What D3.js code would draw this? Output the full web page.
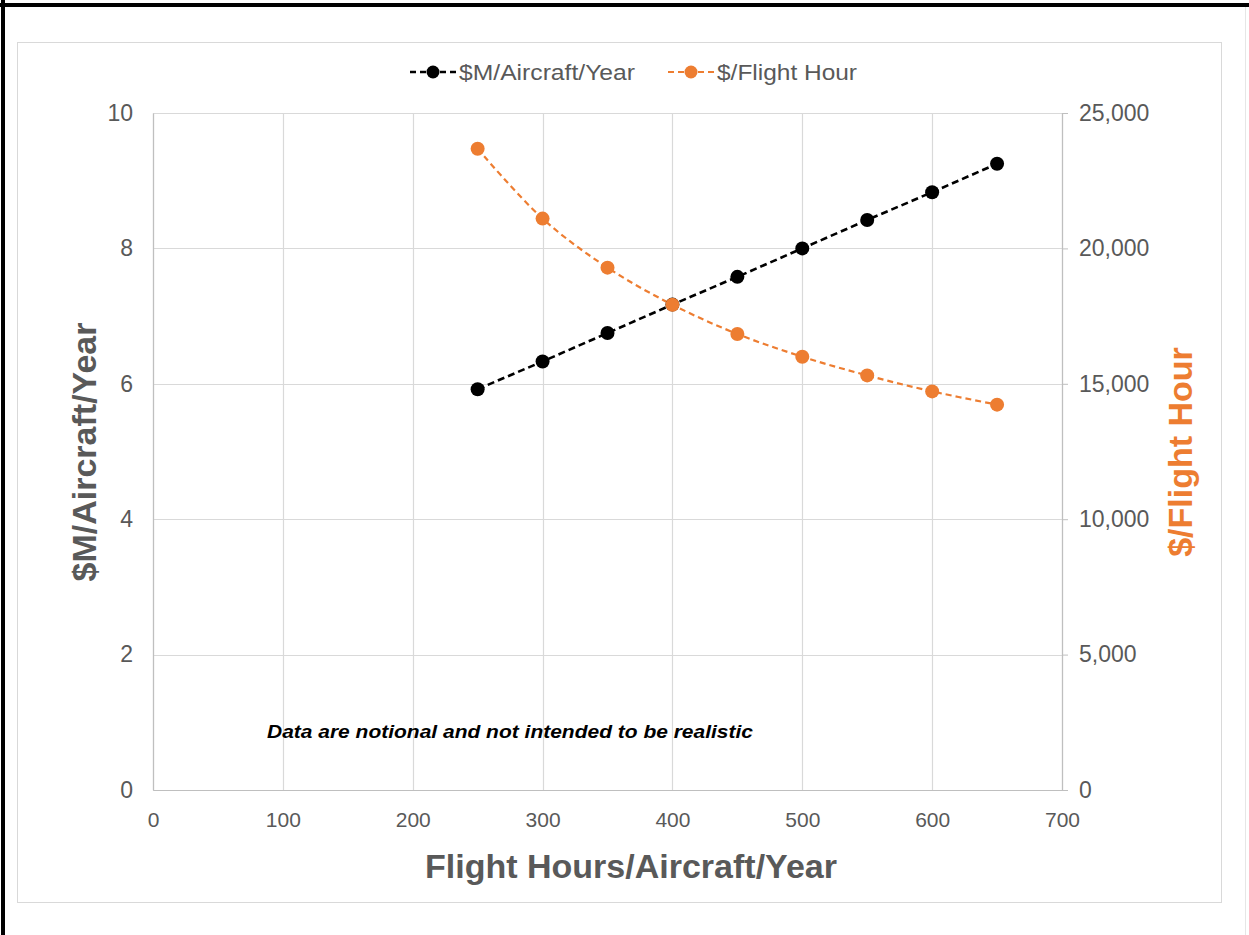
<!DOCTYPE html>
<html>
<head>
<meta charset="utf-8">
<script src="https://cdn.jsdelivr.net/npm/d3@7"></script>
<style>
  html, body { margin: 0; padding: 0; background: #fff; }
  svg { display: block; font-family: "Liberation Sans", Arial, sans-serif; }
</style>
</head>
<body>
<svg id="chart" width="1249" height="935"></svg>
<script>
// ---- data ----
const hours = [250, 300, 350, 400, 450, 500, 550, 600, 650];
const costPerAircraftYear = [5.92, 6.33, 6.75, 7.17, 7.58, 8.0, 8.42, 8.83, 9.25];
const costPerFlightHour = [23680, 21100, 19290, 17920, 16840, 16000, 15310, 14720, 14230];
const xTicks = [0, 100, 200, 300, 400, 500, 600, 700];
const yLeftTicks = [0, 2, 4, 6, 8, 10];
const yRightTicks = [0, 5000, 10000, 15000, 20000, 25000];
const seriesNames = ["$M/Aircraft/Year", "$/Flight Hour"];
const seriesColors = ["#000000", "#ED7D31"];

const svg = d3.select("#chart");
const W = 1249, H = 935;
const plot = { left: 153, right: 1062, top: 113, bottom: 790 };

// outer frame
svg.append("rect").attr("x", 0).attr("y", 0).attr("width", W).attr("height", H).attr("fill", "#fff");
svg.append("rect").attr("x", 17.5).attr("y", 42.5).attr("width", 1204).attr("height", 860)
  .attr("fill", "none").attr("stroke", "#d9d9d9").attr("stroke-width", 1);
svg.append("line").attr("x1", 0).attr("x2", W).attr("y1", 5).attr("y2", 5).attr("stroke", "#000").attr("stroke-width", 4);
svg.append("line").attr("x1", 3).attr("x2", 3).attr("y1", 0).attr("y2", H).attr("stroke", "#000").attr("stroke-width", 4);
svg.append("line").attr("x1", 1245.5).attr("x2", 1245.5).attr("y1", 7).attr("y2", H).attr("stroke", "#e6e6e6").attr("stroke-width", 1);

// scales
const x = d3.scaleLinear().domain([0, 700]).range([plot.left, plot.right]);
const yL = d3.scaleLinear().domain([0, 10]).range([plot.bottom, plot.top]);
const yR = d3.scaleLinear().domain([0, 25000]).range([plot.bottom, plot.top]);

// gridlines
const grid = svg.append("g");
grid.selectAll("line.h").data(yLeftTicks).join("line")
  .attr("x1", plot.left).attr("x2", plot.right)
  .attr("y1", d => Math.round(yL(d)) + 0.5).attr("y2", d => Math.round(yL(d)) + 0.5)
  .attr("stroke", "#d9d9d9").attr("stroke-width", 1.2);
grid.selectAll("line.v").data(xTicks).join("line")
  .attr("y1", plot.top).attr("y2", plot.bottom)
  .attr("x1", d => Math.round(x(d)) + 0.5).attr("x2", d => Math.round(x(d)) + 0.5)
  .attr("stroke", "#d9d9d9").attr("stroke-width", 1.2);

// axes
const tickColor = "#595959";
const xAxis = svg.append("g").attr("transform", `translate(0,${plot.bottom})`)
  .call(d3.axisBottom(x).tickValues(xTicks).tickSize(0).tickPadding(22).tickFormat(d3.format("d")));
const yAxisL = svg.append("g").attr("transform", `translate(${plot.left},0)`)
  .call(d3.axisLeft(yL).tickValues(yLeftTicks).tickSize(0).tickPadding(20).tickFormat(d3.format("d")));
const yAxisR = svg.append("g").attr("transform", `translate(${plot.right},0)`)
  .call(d3.axisRight(yR).tickValues(yRightTicks).tickSize(6).tickPadding(11).tickFormat(d3.format(",")));

[xAxis, yAxisL, yAxisR].forEach(a => {
  a.select(".domain").attr("stroke", "#bfbfbf").attr("stroke-width", 1.2);
  a.selectAll(".tick line").attr("stroke", "#bfbfbf");
  a.selectAll("text").attr("fill", tickColor).style("font-size", "23px")
   .style("font-family", "'Liberation Sans', Arial, sans-serif");
});
xAxis.selectAll("text").style("font-size", "21px");

// lines
const lineL = d3.line().x((d, i) => x(hours[i])).y(d => yL(d));
const lineR = d3.line().x((d, i) => x(hours[i])).y(d => yR(d)).curve(d3.curveCatmullRom.alpha(0.5));

svg.append("path").datum(costPerFlightHour).attr("d", lineR)
  .attr("fill", "none").attr("stroke", seriesColors[1]).attr("stroke-width", 2.2)
  .attr("stroke-dasharray", "6,4");
svg.append("path").datum(costPerAircraftYear).attr("d", lineL)
  .attr("fill", "none").attr("stroke", seriesColors[0]).attr("stroke-width", 2.6)
  .attr("stroke-dasharray", "7,4");

svg.append("g").selectAll("circle").data(costPerAircraftYear).join("circle")
  .attr("cx", (d, i) => x(hours[i])).attr("cy", d => yL(d)).attr("r", 7)
  .attr("fill", seriesColors[0]);
svg.append("g").selectAll("circle").data(costPerFlightHour).join("circle")
  .attr("cx", (d, i) => x(hours[i])).attr("cy", d => yR(d)).attr("r", 7)
  .attr("fill", seriesColors[1]);

// legend
const legendY = 72;
const legendItems = [
  { name: seriesNames[0], color: seriesColors[0], x0: 410, w: 2.6, len: 176 },
  { name: seriesNames[1], color: seriesColors[1], x0: 668, w: 2.2, len: 140 }
];
const lg = svg.append("g");
legendItems.forEach(it => {
  lg.append("line").attr("x1", it.x0).attr("x2", it.x0 + 46)
    .attr("y1", legendY).attr("y2", legendY)
    .attr("stroke", it.color).attr("stroke-width", it.w).attr("stroke-dasharray", "6,4");
  lg.append("circle").attr("cx", it.x0 + 23).attr("cy", legendY).attr("r", 6.5).attr("fill", it.color);
  lg.append("text").attr("x", it.x0 + 49).attr("y", legendY).attr("dy", "0.35em")
    .attr("fill", tickColor).style("font-size", "22px")
    .attr("textLength", it.len).attr("lengthAdjust", "spacingAndGlyphs")
    .text(it.name);
});

// axis titles
svg.append("text").attr("x", 631).attr("y", 878).attr("text-anchor", "middle")
  .attr("fill", tickColor).style("font-size", "34px").style("font-weight", "bold")
  .text("Flight Hours/Aircraft/Year");
svg.append("text").attr("transform", "translate(96,452) rotate(-90)").attr("text-anchor", "middle")
  .attr("fill", tickColor).style("font-size", "34px").style("font-weight", "bold")
  .text("$M/Aircraft/Year");
svg.append("text").attr("transform", "translate(1192,452) rotate(-90)").attr("text-anchor", "middle")
  .attr("fill", seriesColors[1]).style("font-size", "34px").style("font-weight", "bold")
  .text("$/Flight Hour");

// annotation
svg.append("text").attr("x", 267).attr("y", 738)
  .attr("fill", "#000").style("font-size", "18px").style("font-weight", "bold").style("font-style", "italic")
  .attr("textLength", 486).attr("lengthAdjust", "spacingAndGlyphs")
  .text("Data are notional and not intended to be realistic");
</script>
</body>
</html>
